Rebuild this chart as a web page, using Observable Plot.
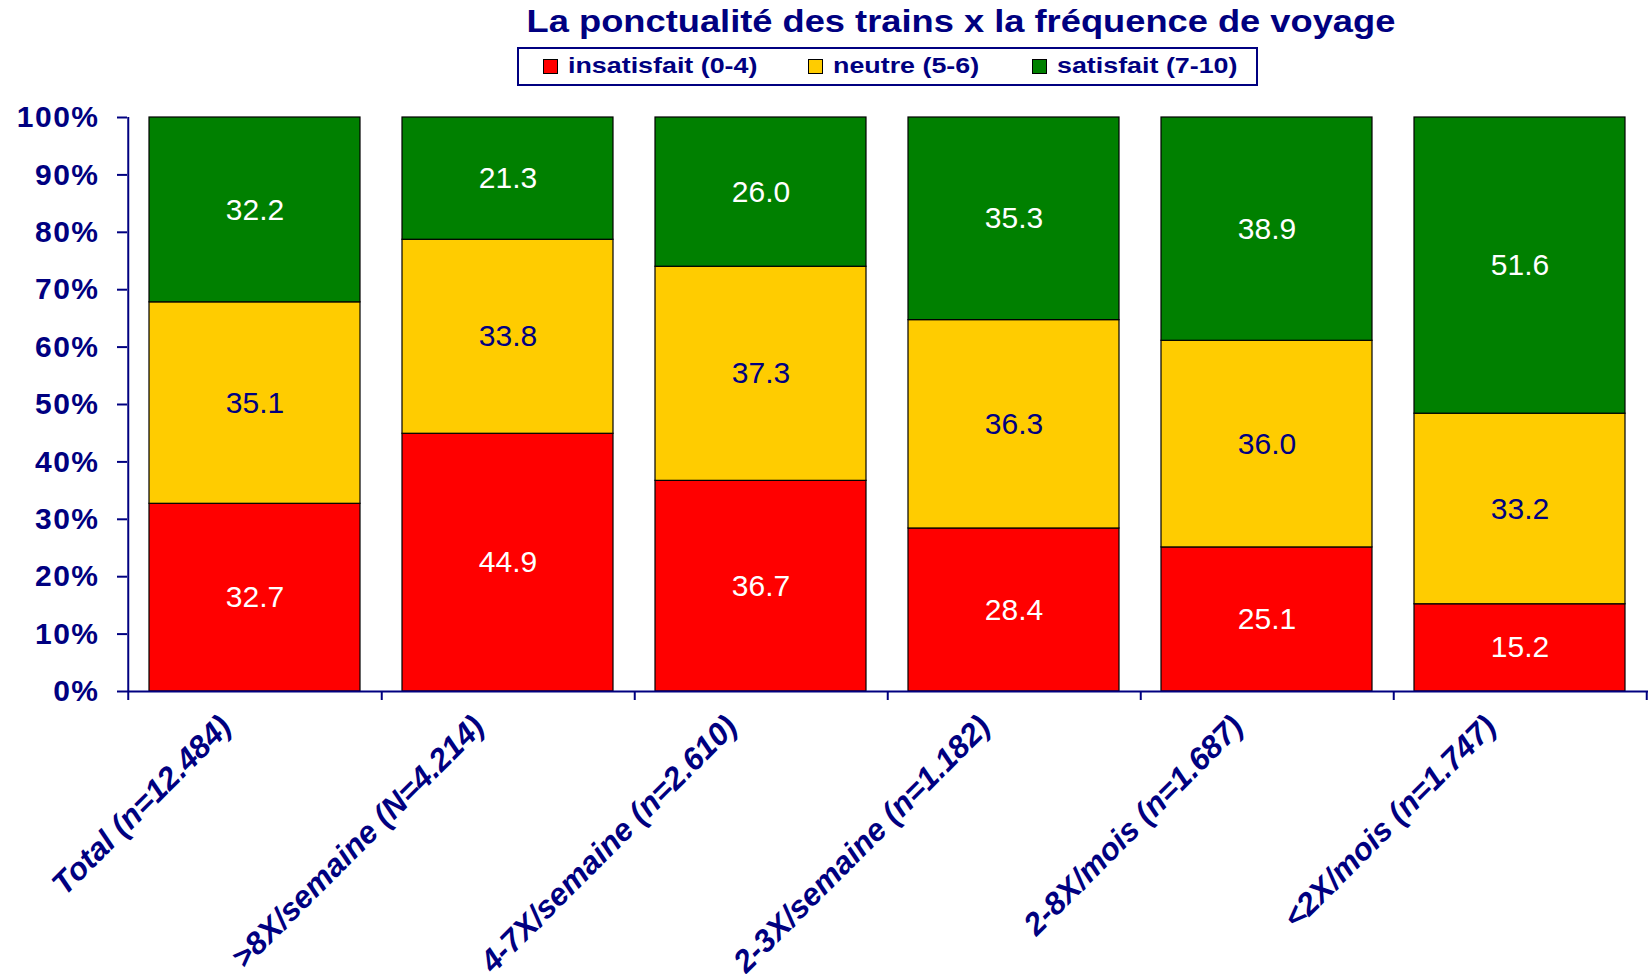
<!DOCTYPE html>
<html>
<head>
<meta charset="utf-8">
<script src="https://cdn.jsdelivr.net/npm/d3@7"></script>
<script src="https://cdn.jsdelivr.net/npm/@observablehq/plot@0.6"></script>
<style>
  html, body { margin: 0; padding: 0; background: #fff; }
  #wrap { position: relative; width: 1651px; height: 974px; overflow: hidden; font-family: "Liberation Sans", Arial, sans-serif; }
  #chart { position: absolute; left: 0; top: 0; }
  #title { position: absolute; left: 961px; top: 6px; white-space: nowrap; font-weight: bold; font-size: 31px; line-height: 31px; color: #000080; transform: translateX(-50%) scaleX(1.17); }
  #legend { position: absolute; left: 517px; top: 47px; width: 737px; height: 35px; border: 2px solid #000080; box-sizing: content-box; }
  .sw { position: absolute; top: 10px; width: 13px; height: 13px; border: 1.5px solid #000; }
  .lt { position: absolute; top: 5px; white-space: nowrap; font-weight: bold; font-size: 22px; line-height: 24px; color: #000080; transform-origin: left center; transform: scaleX(1.22); }
  g[aria-label="y-axis tick label"] text { letter-spacing: 1.5px; }
</style>
</head>
<body>
<div id="wrap">
  <div id="chart"></div>
  <div id="title"></div>
  <div id="legend"></div>
</div>
<script>
const titleText = "La ponctualité des trains x la fréquence de voyage";
const categories = [
  "Total (n=12.484)",
  ">8X/semaine (N=4.214)",
  "4-7X/semaine (n=2.610)",
  "2-3X/semaine (n=1.182)",
  "2-8X/mois (n=1.687)",
  "<2X/mois (n=1.747)"
];
const seriesNames = ["insatisfait (0-4)", "neutre (5-6)", "satisfait (7-10)"];
const seriesColors = ["#FF0000", "#FFCC00", "#008000"];
const insatisfait = [32.7, 44.9, 36.7, 28.4, 25.1, 15.2];
const neutre = [35.1, 33.8, 37.3, 36.3, 36.0, 33.2];
const satisfait = [32.2, 21.3, 26.0, 35.3, 38.9, 51.6];
const yTicks = [0, 10, 20, 30, 40, 50, 60, 70, 80, 90, 100];

const seriesValues = [insatisfait, neutre, satisfait];
const rows = categories.flatMap((c, i) =>
  seriesNames.map((s, k) => ({cat: c, series: s, value: seriesValues[k][i]}))
);

const W = 1651, H = 974, ML = 127, MR = 3, MT = 117, MB = 283;
const step = (W - ML - MR) / categories.length;
const navy = "#000080";

document.getElementById("title").textContent = titleText;

// legend
const legend = document.getElementById("legend");
const swX = [24, 289, 513];
const txX = [49, 314, 538];
seriesNames.forEach((s, k) => {
  const sw = document.createElement("div");
  sw.className = "sw"; sw.style.left = swX[k] + "px"; sw.style.background = seriesColors[k];
  legend.appendChild(sw);
  const t = document.createElement("div");
  t.className = "lt"; t.style.left = txX[k] + "px"; t.textContent = s;
  legend.appendChild(t);
});

const isNeutre = d => d.series === seriesNames[1];

const plot = Plot.plot({
  width: W, height: H,
  marginLeft: ML, marginRight: MR, marginTop: MT, marginBottom: MB,
  style: {fontFamily: "'Liberation Sans', Arial, sans-serif", color: navy, background: "transparent"},
  x: {domain: categories, axis: null, paddingInner: 0.166, paddingOuter: 0.083},
  y: {domain: [0, 100], axis: null, label: null},
  color: {domain: seriesNames, range: seriesColors},
  marks: [
    Plot.barY(rows, {x: "cat", y: "value", fill: "series", stroke: "#000", strokeWidth: 1.2}),
    Plot.text(rows, Plot.stackY({
      x: "cat", y: "value", z: null,
      text: d => isNeutre(d) ? "" : d.value.toFixed(1), fill: "white", fontSize: 30
    })),
    Plot.text(rows, Plot.stackY({
      x: "cat", y: "value", z: null,
      text: d => isNeutre(d) ? d.value.toFixed(1) : "", fill: navy, fontSize: 30
    })),
    Plot.axisY({ticks: yTicks, tickFormat: d => d + "%", tickSize: 10, tickPadding: 18, label: null,
      fontSize: 30, fontWeight: "bold", stroke: navy, fill: navy, strokeWidth: 2}),
    Plot.ruleY([0], {stroke: navy, strokeWidth: 2}),
    Plot.ruleX([categories[0]], {dx: -step / 2, y1: 100, y2: 0, insetBottom: -9, stroke: navy, strokeWidth: 2}),
    Plot.ruleX(categories, {dx: step / 2, y1: 0, y2: 0, insetBottom: -9, stroke: navy, strokeWidth: 2}),
    Plot.text(categories, {x: d => d, text: d => d, frameAnchor: "bottom", rotate: -45, textAnchor: "end",
      dx: -22, dy: 37, fontSize: 31.5, fontWeight: "bold", fontStyle: "italic", fill: navy})
  ]
});
document.getElementById("chart").appendChild(plot);
</script>
</body>
</html>
